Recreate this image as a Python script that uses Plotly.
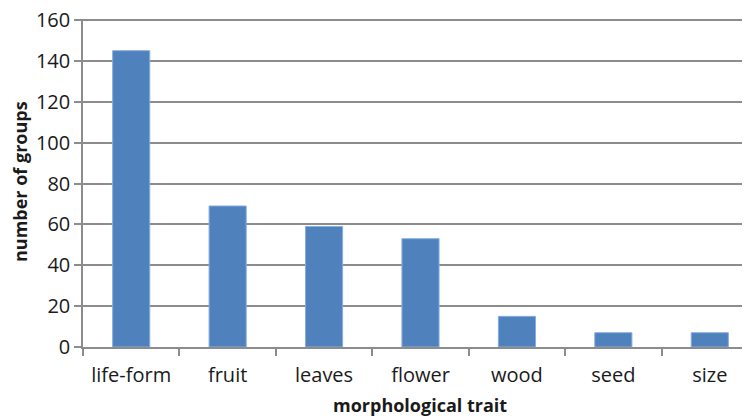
import plotly.graph_objects as go

categories = ["life-form", "fruit", "leaves", "flower", "wood", "seed", "size"]
values = [145, 69, 59, 53, 15, 7, 7]
y_ticks = [0, 20, 40, 60, 80, 100, 120, 140, 160]

grey = "#8c8c8c"

# page body adds an 8px offset; margins compensate so the plot area
# sits at x 83..758, y 20..347 in the window
PLOT_W = 675
PLOT_H = 327

fig = go.Figure(
    go.Bar(
        x=categories,
        y=values,
        width=0.385,
        marker=dict(color="#4f81bd", line=dict(color="#86aee0", width=1)),
    )
)

fig.update_layout(
    width=750,
    height=416,
    margin=dict(l=75, r=0, t=11, b=77),
    paper_bgcolor="white",
    plot_bgcolor="white",
    showlegend=False,
    font=dict(family="Open Sans", size=20, color="#1a1a1a"),
)

fig.update_xaxes(
    type="category",
    range=[-0.5, 6.5],
    automargin=False,
    showline=True,
    linecolor=grey,
    linewidth=1.5,
    ticks="outside",
    tickson="boundaries",
    ticklen=7,
    tickcolor=grey,
    tickwidth=1.5,
    ticklabelstandoff=9,
    showgrid=False,
)

fig.update_yaxes(
    range=[0, 160.5],
    tickvals=y_ticks,
    automargin=False,
    ticklabeloverflow="allow",
    showline=True,
    linecolor=grey,
    linewidth=1.5,
    ticks="outside",
    ticklen=7,
    tickcolor=grey,
    tickwidth=1.5,
    showgrid=True,
    gridcolor=grey,
    gridwidth=1.6,
    zeroline=False,
)

fig.add_annotation(
    text="<b>morphological trait</b>",
    xref="paper", yref="paper",
    x=(420 - 83) / PLOT_W, y=-(405 - 347) / 328,
    xanchor="center", yanchor="middle",
    showarrow=False,
    font=dict(size=18, family="Open Sans", color="#1a1a1a"),
)
fig.add_annotation(
    text="<b>number of groups</b>",
    xref="paper", yref="paper",
    x=-(83 - 20) / PLOT_W, y=(347 - 182) / 328,
    xanchor="center", yanchor="middle",
    textangle=-90,
    showarrow=False,
    font=dict(size=18, family="Open Sans", color="#1a1a1a"),
)

fig.write_html("out.html")
